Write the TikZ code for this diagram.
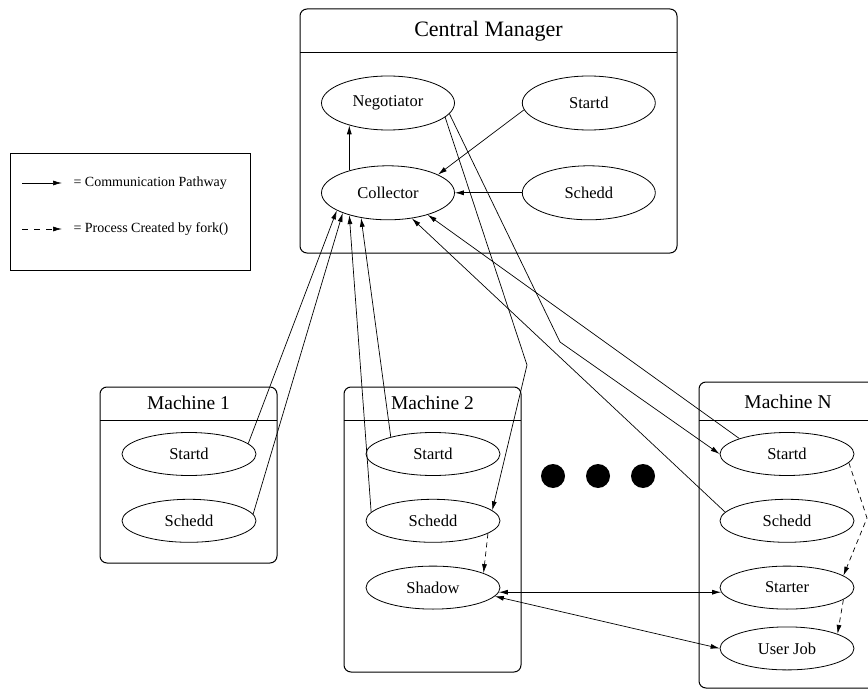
\documentclass[tikz,border=0pt]{standalone}
\usepackage{fontspec}
\setmainfont{Liberation Serif}
\usetikzlibrary{shapes.geometric,arrows.meta,positioning}

\begin{document}
\begin{tikzpicture}[x=1pt,y=-1pt,
        proc/.style={draw,ellipse,line width=0.8pt,minimum width=134pt,minimum height=43pt,inner sep=0pt,font=\fontsize{16.5}{18}\selectfont},
        cmproc/.style={proc,minimum width=133pt,minimum height=54pt},
        host/.style={draw,line width=1pt,rounded corners=7pt},
        hosttitle/.style={font=\fontsize{19.5}{22}\selectfont},
        comm/.style={line width=0.7pt,-{Latex[length=9pt,width=5pt]}},
        fork/.style={comm,dash pattern=on 5pt off 4pt},
        duplex/.style={line width=0.7pt,{Latex[length=9pt,width=5pt]}-{Latex[length=9pt,width=5pt]}}]
            \useasboundingbox (0,0) rectangle (868,690);
            \clip (0,0) rectangle (868,690);
            \draw[host] (300,9) rectangle (677,253);
            \draw[line width=1pt] (300,53) -- (677,53);
            \draw[host] (100,387) rectangle (277,563);
            \draw[line width=1pt] (100,420) -- (277,420);
            \draw[host] (344,387) rectangle (521,672);
            \draw[line width=1pt] (344,420) -- (521,420);
            \draw[host] (699,382) rectangle (900,688);
            \draw[line width=1pt] (699,420) -- (900,420);
            \node[font=\fontsize{22}{24}\selectfont] (cmtitle) at (488.5,31) {Central Manager};
            \node[hosttitle] (atitle) at (188.5,403) {Machine 1};
            \node[hosttitle] (btitle) at (432.5,403) {Machine 2};
            \node[hosttitle] (ntitle) at (788,402) {Machine N};
            \node[cmproc] (neg) at (388,103) {Negotiator};
            \node[cmproc, right=67pt of neg] (cmstartd) {Startd};
            \node[cmproc, below=35pt of neg] (coll) {Collector};
            \node[cmproc, right=67pt of coll] (cmschedd) {Schedd};
            \node[proc] (astartd) at (189,454) {Startd};
            \node[proc, below=23pt of astartd] (aschedd) {Schedd};
            \node[proc] (bstartd) at (433,454) {Startd};
            \node[proc, below=23pt of bstartd] (bschedd) {Schedd};
            \node[proc, below=23pt of bschedd] (shadow) {Shadow};
            \node[proc] (nstartd) at (787,454) {Startd};
            \node[proc, below=23pt of nstartd] (nschedd) {Schedd};
            \node[proc, below=23pt of nschedd] (starter) {Starter};
            \node[proc, below=17pt of starter] (userjob) {User Job};
            \foreach \x in {553,598,643}
                \fill (\x,476) circle (12pt);
            \draw[comm] (coll.150) -- (neg.210);
            \draw[comm] (cmstartd.186) -- (coll.20);
            \draw[comm] (cmschedd.west) -- (coll.east);
            \draw[comm] (astartd.10) -- (coll.199);
            \draw[comm] (aschedd.6) -- (coll.204);
            \draw[comm] (bstartd.158) -- (coll.223);
            \draw[comm] (bschedd.172) -- (coll.210);
            \draw[comm] (nstartd.162) -- (coll.331);
            \draw[comm] (nschedd.172) -- (coll.313);
            \coordinate (benda) at (527,365);
            \coordinate (bendb) at (560,342);
            \coordinate (bendc) at (867,518);
            \draw[comm] (neg.346) -- (benda) -- (bschedd.10);
            \draw[comm] (neg.350) -- (bendb) -- (nstartd.west);
            \draw[fork] (nstartd.352) -- (bendc) -- (starter.12);
            \draw[fork] (starter.348) -- (userjob.16);
            \draw[fork] (bschedd.347) -- (shadow.16);
            \draw[duplex] (shadow.356) -- (starter.184);
            \draw[duplex] (shadow.352) -- (userjob.west);
            \begin{scope}[every node/.style={right,font=\fontsize{14}{16}\selectfont}]
                \draw[line width=0.8pt] (10,153) rectangle (250,270);
                \node (lgcomm) at (70,183) {= Communication Pathway};
                \node (lgfork) at (70,229) {= Process Created by fork()};
                \coordinate (lga) at (22,183);
                \coordinate (lgb) at (22,229);
                \draw[comm, shorten >=8pt] (lga) -- (lgcomm.west);
                \draw[comm, dash pattern=on 6pt off 6pt, shorten >=8pt] (lgb) -- (lgfork.west);
            \end{scope}
        \end{tikzpicture}
\end{document}
